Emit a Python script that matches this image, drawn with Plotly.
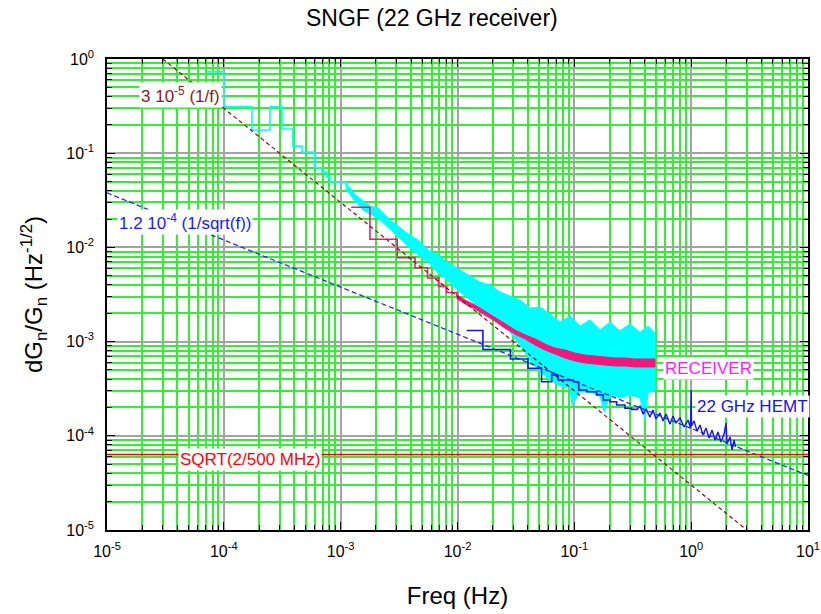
import plotly.graph_objects as go

# ---------------- data ----------------
# Cyan: full-resolution receiver spectrum, low-frequency FFT bins (step plot)
cyan_step_f = [7.2e-5, 1.0e-4, 1.74e-4, 2.48e-4, 3.15e-4, 3.9e-4, 4.67e-4, 6.0e-4, 6.9e-4, 7.6e-4, 8.1e-4, 1.11e-3]
cyan_step_y = [0.73, 0.31, 0.176, 0.31, 0.181, 0.119, 0.103, 0.070, 0.063, 0.056, 0.0495, 0.045]

# Cyan: noisy part, upper and lower envelope of the scatter
cyan_top_f = [1.11e-3, 1.30e-3, 1.55e-3, 1.78e-3, 2.09e-3, 2.54e-3, 3.10e-3, 3.77e-3, 4.59e-3, 5.59e-3,
              6.68e-3, 8.13e-3, 1.05e-2, 1.28e-2, 1.56e-2, 1.90e-2, 2.31e-2, 2.81e-2, 3.43e-2, 4.18e-2,
              5.09e-2, 6.19e-2, 7.54e-2, 9.18e-2, 0.112, 0.136, 0.166, 0.202, 0.246, 0.300, 0.365, 0.427, 0.49]
cyan_top_y = [4.83e-2, 3.78e-2, 3.11e-2, 2.75e-2, 2.62e-2, 2.05e-2, 1.69e-2, 1.39e-2, 1.20e-2, 9.38e-3,
              8.51e-3, 7.00e-3, 5.76e-3, 4.97e-3, 4.29e-3, 3.99e-3, 3.36e-3, 3.05e-3, 2.76e-3, 2.27e-3,
              2.33e-3, 1.96e-3, 1.61e-3, 1.87e-3, 1.46e-3, 1.70e-3, 1.33e-3, 1.61e-3, 1.30e-3, 1.54e-3,
              1.26e-3, 1.46e-3, 1.23e-3]
cyan_bot_f = [1.11e-3, 1.30e-3, 1.55e-3, 1.78e-3, 2.09e-3, 2.54e-3, 3.10e-3, 3.77e-3, 4.59e-3, 5.59e-3,
              6.68e-3, 8.13e-3, 1.05e-2, 1.28e-2, 1.56e-2, 1.90e-2, 2.31e-2, 2.81e-2, 3.43e-2, 4.18e-2,
              5.09e-2, 6.19e-2, 7.54e-2, 9.18e-2, 9.55e-2, 0.112, 0.136, 0.166, 0.180, 0.202, 0.246,
              0.300, 0.365, 0.403, 0.427, 0.49]
cyan_bot_y = [4.17e-2, 3.19e-2, 2.49e-2, 2.26e-2, 2.05e-2, 1.61e-2, 1.29e-2, 1.03e-2, 8.30e-3, 7.00e-3,
              5.48e-3, 4.51e-3, 3.36e-3, 2.76e-3, 2.27e-3, 1.87e-3, 1.61e-3, 1.26e-3, 9.20e-4, 6.38e-4,
              4.76e-4, 3.91e-4, 3.38e-4, 3.22e-4, 2.12e-4, 2.92e-4, 2.92e-4, 2.65e-4, 1.79e-4, 2.78e-4,
              2.52e-4, 2.71e-4, 2.52e-4, 1.47e-4, 2.85e-4, 3.06e-4]

# Pink: binned receiver spectrum, steps then noisy band
pink_step_f = [1.23e-3, 1.78e-3, 3.05e-3, 4.33e-3, 5.54e-3, 6.88e-3, 8.08e-3, 9.84e-3]
pink_step_y = [2.67e-2, 1.22e-2, 7.78e-3, 6.09e-3, 4.73e-3, 3.85e-3, 3.32e-3, 3.00e-3]
pink_band_f = [9.84e-3, 1.16e-2, 1.41e-2, 1.72e-2, 2.09e-2, 2.55e-2, 3.11e-2, 3.78e-2, 4.61e-2, 5.61e-2,
               6.83e-2, 8.32e-2, 0.101, 0.123, 0.150, 0.183, 0.223, 0.271, 0.331, 0.403, 0.49]
pink_top_y = [3.16e-3, 2.76e-3, 2.45e-3, 2.11e-3, 1.82e-3, 1.54e-3, 1.33e-3, 1.18e-3, 1.07e-3, 9.43e-4,
              8.55e-4, 8.14e-4, 7.57e-4, 7.21e-4, 7.03e-4, 6.86e-4, 6.70e-4, 6.70e-4, 6.54e-4, 6.54e-4, 6.54e-4]
pink_bot_y = [2.87e-3, 2.51e-3, 2.22e-3, 1.92e-3, 1.65e-3, 1.39e-3, 1.20e-3, 1.07e-3, 9.20e-4, 8.14e-4,
              7.39e-4, 6.70e-4, 6.23e-4, 5.93e-4, 5.78e-4, 5.64e-4, 5.51e-4, 5.51e-4, 5.38e-4, 5.38e-4, 5.38e-4]

# Blue: 22 GHz HEMT spectrum (binned steps, then raw noisy points)
hemt_step_f = [1.20e-2, 1.65e-2, 2.84e-2, 4.01e-2, 5.24e-2, 6.40e-2, 7.25e-2, 9.80e-2, 0.109, 0.128,
               0.155, 0.177, 0.202, 0.230, 0.271, 0.310, 0.342]
hemt_step_y = [1.31e-3, 8.24e-4, 6.54e-4, 5.21e-4, 3.75e-4, 4.42e-4, 3.91e-4, 3.75e-4, 3.06e-4, 2.94e-4,
               2.71e-4, 2.40e-4, 2.30e-4, 2.12e-4, 1.96e-4, 1.91e-4, 1.88e-4]
hemt_noise_f = [0.342, 0.365, 0.387, 0.411, 0.444, 0.471, 0.500, 0.541, 0.574, 0.609,
                0.659, 0.699, 0.742, 0.803, 0.869, 0.940, 0.987, 1.00, 1.007, 1.058,
                1.122, 1.191, 1.263, 1.340, 1.422, 1.509, 1.600, 1.697, 1.801, 1.910,
                1.99, 2.027, 2.151, 2.237, 2.327, 2.397]
hemt_noise_y = [1.88e-4, 2.07e-4, 1.70e-4, 1.93e-4, 1.58e-4, 1.88e-4, 1.51e-4, 1.75e-4, 1.44e-4, 1.70e-4,
                1.33e-4, 1.62e-4, 1.37e-4, 1.55e-4, 1.24e-4, 1.47e-4, 1.21e-4, 3.06e-4, 1.27e-4, 1.44e-4,
                1.12e-4, 1.30e-4, 1.02e-4, 1.21e-4, 9.47e-5, 1.15e-4, 9.02e-5, 1.10e-4, 8.59e-5, 1.04e-4,
                1.37e-4, 8.18e-5, 9.71e-5, 7.07e-5, 9.02e-5, 7.61e-5]

# Reference lines
oneoverf_f = [3e-5, 3.0]          # 3e-5 / f
oneoverf_y = [1.0, 1e-5]
sqrtf_f = [1e-5, 10.0]            # 1.2e-4 / sqrt(f)
sqrtf_y = [0.0379, 3.79e-5]
radiometer_f = [1e-5, 10.0]       # sqrt(2 / 500 MHz)
radiometer_y = [6.32e-5, 6.32e-5]

# Axis ticks
x_tickvals = [1e-5, 1e-4, 1e-3, 1e-2, 1e-1, 1, 10]
x_ticktext = ["10<sup>-5</sup>", "10<sup>-4</sup>", "10<sup>-3</sup>", "10<sup>-2</sup>",
              "10<sup>-1</sup>", "10<sup>0</sup>", "10<sup>1</sup>"]
y_tickvals = [1e-5, 1e-4, 1e-3, 1e-2, 1e-1, 1]
y_ticktext = ["10<sup>-5</sup>", "10<sup>-4</sup>", "10<sup>-3</sup>", "10<sup>-2</sup>",
              "10<sup>-1</sup>", "10<sup>0</sup>"]

# ---------------- figure ----------------
CYAN = "#00ffff"
PINK = "#f2187c"
BLUE = "#1414f5"
FONT = "Liberation Sans, Arial, sans-serif"

fig = go.Figure()

fig.add_trace(go.Scatter(x=cyan_top_f + cyan_bot_f[::-1], y=cyan_top_y + cyan_bot_y[::-1],
                         mode="lines", fill="toself", fillcolor=CYAN,
                         line=dict(color=CYAN, width=1.0), hoverinfo="skip"))
fig.add_trace(go.Scatter(x=cyan_step_f, y=cyan_step_y, mode="lines", line_shape="hv",
                         line=dict(color=CYAN, width=1.6)))

fig.add_trace(go.Scatter(x=pink_band_f + pink_band_f[::-1], y=pink_top_y + pink_bot_y[::-1],
                         mode="lines", fill="toself", fillcolor=PINK,
                         line=dict(color=PINK, width=1.0), hoverinfo="skip"))
fig.add_trace(go.Scatter(x=pink_step_f, y=pink_step_y, mode="lines", line_shape="hv",
                         line=dict(color=PINK, width=1.6)))

fig.add_trace(go.Scatter(x=hemt_step_f, y=hemt_step_y, mode="lines", line_shape="hv",
                         line=dict(color=BLUE, width=1.6)))
fig.add_trace(go.Scatter(x=hemt_noise_f, y=hemt_noise_y, mode="lines",
                         line=dict(color=BLUE, width=1.4)))

fig.add_trace(go.Scatter(x=oneoverf_f, y=oneoverf_y, mode="lines",
                         line=dict(color="#8b0a0a", width=1.2, dash="4px,3px")))
fig.add_trace(go.Scatter(x=sqrtf_f, y=sqrtf_y, mode="lines",
                         line=dict(color="#1a1aff", width=1.2, dash="5px,3px")))
fig.add_trace(go.Scatter(x=radiometer_f, y=radiometer_y, mode="lines",
                         line=dict(color="#ff0000", width=1.6)))

minor_x = [m * 10.0 ** e for e in range(-5, 1) for m in range(2, 10)]
minor_y = [m * 10.0 ** e for e in range(-5, 0) for m in range(2, 10)]


def axis_style(tv, tt, minor_vals, rng):
    return dict(
        type="log", range=rng, tickmode="array", tickvals=tv, ticktext=tt,
        ticks="inside", ticklen=8, tickwidth=1.2, tickcolor="black",
        mirror="allticks", showline=True, linecolor="black", linewidth=1.5,
        showgrid=True, gridcolor="#a3a3a3", gridwidth=2, zeroline=False,
        automargin=False,
        tickfont=dict(size=16, color="black", family=FONT),
        minor=dict(tickmode="array", tickvals=minor_vals, ticks="inside", ticklen=5,
                   tickwidth=1, tickcolor="black", showgrid=True,
                   gridcolor="#33ee33", gridwidth=1.5),
    )


xa = axis_style(x_tickvals, x_ticktext, minor_x, [-5, 1])
xa.update(title=dict(text="Freq (Hz)", font=dict(size=24, color="black", family=FONT), standoff=28),
          ticklabelstandoff=6)
ya = axis_style(y_tickvals, y_ticktext, minor_y, [-5, 0])
ya.update(title=dict(text="dG<sub>n</sub>/G<sub>n</sub> (Hz<sup>-1/2</sup>)",
                     font=dict(size=24, color="black", family=FONT), standoff=17),
          ticklabelstandoff=8)

PW, PH, L, B = 701, 471, 107, 84


def px(x):
    return (x - L) / PW


def py(y):
    return (614 - B - y) / PH


annos = [
    ("3 10<sup>-5</sup> (1/f)", 139, 95, "#8b1a1a"),
    ("1.2 10<sup>-4</sup> (1/sqrt(f))", 117, 222, "#1a1aff"),
    ("SQRT(2/500 MHz)", 178, 459, "#ff0000"),
    ("RECEIVER", 663, 368, "#ff1aff"),
    ("22 GHz HEMT", 695, 406, "#1414f5"),
]
for text, ax_, ay_, col in annos:
    fig.add_annotation(text=text, xref="paper", yref="paper", x=px(ax_), y=py(ay_),
                       xanchor="left", yanchor="middle", showarrow=False,
                       bgcolor="white", borderpad=1,
                       font=dict(size=17, color=col, family=FONT))

fig.update_layout(
    width=821, height=614,
    margin=dict(l=L, r=13, t=59, b=B, autoexpand=False),
    paper_bgcolor="white", plot_bgcolor="white",
    showlegend=False,
    font=dict(family=FONT, color="black"),
    title=dict(text="SNGF (22 GHz receiver)", x=0.526, xref="container", xanchor="center",
               y=1 - 18 / 614, yref="container", yanchor="middle", automargin=False,
               font=dict(size=23, color="black", family=FONT)),
    xaxis=xa, yaxis=ya,
)

fig.write_html("out.html")
